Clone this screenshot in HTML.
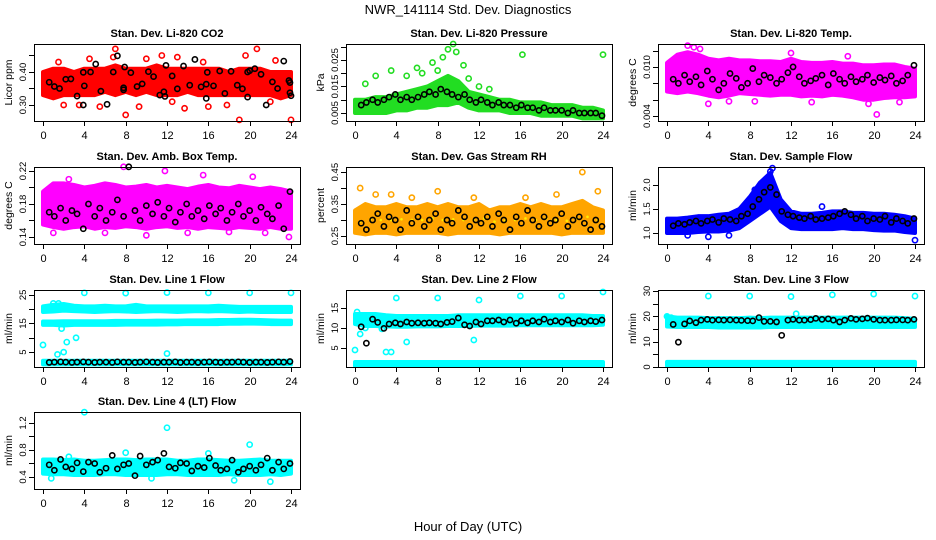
<!DOCTYPE html>
<html><head><meta charset="utf-8"><style>
html,body{margin:0;padding:0;background:#fff;}
svg{display:block;font-family:"Liberation Sans",sans-serif;}
</style></head><body>
<svg id="chart" width="936" height="540" viewBox="0 0 936 540">
<text x="468" y="14" text-anchor="middle" font-size="13">NWR_141114  Std. Dev. Diagnostics</text>
<text x="468" y="531" text-anchor="middle" font-size="13">Hour of Day (UTC)</text>
</svg>
<script>
// ---- data (hour of day vs std dev) ----
const xTicks = [0,4,8,12,16,20,24];
const bandHours = [0,1,2,3,4,5,6,7,8,9,10,11,12,13,14,15,16,17,18,19,20,21,22,23,24];
const blackHours = [0.6,1.1,1.7,2.2,2.8,3.3,3.9,4.4,5.0,5.5,6.1,6.7,7.2,7.8,8.3,8.9,9.4,10.0,10.6,11.1,11.7,12.2,12.8,13.3,13.9,14.4,15.0,15.6,16.1,16.7,17.2,17.8,18.3,18.9,19.4,20.0,20.6,21.1,21.7,22.2,22.8,23.3,23.9];

const co2Lo = [0.33,0.32,0.33,0.33,0.33,0.33,0.34,0.33,0.34,0.33,0.34,0.33,0.33,0.33,0.34,0.33,0.33,0.33,0.33,0.33,0.33,0.33,0.33,0.32,0.33];
const co2Hi = [0.40,0.41,0.41,0.40,0.41,0.41,0.41,0.42,0.41,0.41,0.41,0.42,0.41,0.41,0.41,0.41,0.41,0.41,0.40,0.41,0.41,0.41,0.40,0.40,0.40];
const co2OutX = [7,8,9.3,11.5,13.7,19,20.7,24,2,3.5,5.5,6.8,16,19.6,1.5,10,13,22,22.5,4.5,15.5,17.8,12.5];
const co2OutY = [0.47,0.27,0.295,0.45,0.29,0.255,0.47,0.255,0.30,0.30,0.295,0.445,0.295,0.45,0.43,0.44,0.445,0.31,0.435,0.44,0.43,0.30,0.31];
const co2BlackX = [0.6,1.1,1.6,2.2,2.7,3.3,3.9,3.9,4,4.6,5.1,5.6,6.2,6.8,7.2,7.8,7.8,7.9,8.5,9.1,9.6,10.2,10.7,11.3,11.7,11.8,11.9,12.5,13,13.6,14.2,14.7,15.3,15.8,15.8,15.9,16.5,17.1,17.6,18.2,18.8,19.3,19.8,19.8,20,20.5,21.1,21.6,22.2,22.7,23.3,23.8,23.9,23.9,24];
const co2BlackY = [0.369,0.356,0.350,0.378,0.379,0.327,0.300,0.399,0.358,0.400,0.424,0.342,0.302,0.400,0.449,0.352,0.346,0.415,0.398,0.356,0.364,0.401,0.386,0.330,0.340,0.326,0.420,0.388,0.349,0.418,0.360,0.438,0.355,0.320,0.363,0.399,0.358,0.403,0.335,0.402,0.360,0.349,0.324,0.400,0.404,0.410,0.393,0.300,0.370,0.350,0.433,0.374,0.368,0.337,0.328];

const pLo = [0.005,0.005,0.005,0.005,0.006,0.006,0.007,0.007,0.008,0.008,0.009,0.007,0.006,0.006,0.006,0.005,0.005,0.005,0.004,0.004,0.004,0.004,0.003,0.003,0.003];
const pHi = [0.010,0.010,0.011,0.011,0.012,0.013,0.014,0.015,0.017,0.019,0.017,0.013,0.012,0.011,0.010,0.010,0.009,0.009,0.009,0.008,0.008,0.008,0.007,0.007,0.006];
const pOutX = [2,3.5,6,7.5,8.5,9.5,9.8,10.5,16.2,24,1,5,8,9,11,12,13,6.5];
const pOutY = [0.019,0.021,0.022,0.024,0.026,0.031,0.028,0.023,0.027,0.027,0.016,0.019,0.021,0.029,0.018,0.015,0.014,0.020];
const pBlack = [0.008,0.009,0.010,0.009,0.010,0.011,0.012,0.010,0.011,0.010,0.011,0.012,0.013,0.012,0.014,0.013,0.012,0.011,0.012,0.010,0.009,0.010,0.009,0.008,0.009,0.008,0.008,0.007,0.008,0.007,0.007,0.006,0.007,0.006,0.006,0.006,0.005,0.006,0.005,0.005,0.005,0.005,0.004];

const tLo = [0.0070,0.0068,0.0070,0.0068,0.0065,0.0063,0.0065,0.0068,0.0067,0.0066,0.0065,0.0066,0.0066,0.0064,0.0065,0.0064,0.0066,0.0065,0.0063,0.0060,0.0060,0.0062,0.0063,0.0063,0.0064];
const tHi = [0.0105,0.0115,0.0118,0.0115,0.0110,0.0108,0.0110,0.0108,0.0108,0.0107,0.0107,0.0106,0.0110,0.0106,0.0105,0.0105,0.0106,0.0104,0.0104,0.0102,0.0102,0.0103,0.0103,0.0100,0.0098];
const tOutX = [2,2.6,3.2,20.3,19.5,4,6,8.5,14,17.5,12,22.5];
const tOutY = [0.0126,0.0124,0.0122,0.0042,0.0055,0.0055,0.0058,0.0058,0.0057,0.0113,0.0117,0.0057];
const tBlack = [0.0085,0.0080,0.0090,0.0082,0.0088,0.0078,0.0095,0.0085,0.0072,0.0080,0.0092,0.0086,0.0075,0.0080,0.0098,0.0082,0.0090,0.0087,0.0080,0.0085,0.0093,0.0100,0.0088,0.0080,0.0083,0.0086,0.0090,0.0078,0.0092,0.0085,0.0080,0.0088,0.0082,0.0085,0.0090,0.0081,0.0087,0.0084,0.0089,0.0080,0.0083,0.0090,0.0102];

const aLo = [0.155,0.152,0.150,0.152,0.153,0.150,0.152,0.151,0.153,0.152,0.150,0.152,0.153,0.151,0.152,0.150,0.152,0.151,0.150,0.152,0.151,0.150,0.152,0.150,0.150];
const aHi = [0.195,0.205,0.205,0.203,0.200,0.202,0.205,0.203,0.200,0.201,0.203,0.200,0.202,0.200,0.198,0.201,0.203,0.200,0.199,0.202,0.200,0.198,0.200,0.198,0.195];
const aOutX = [7.8,11.8,15.5,20.3,2.5,1,6,10,14,23.8,21.5,18];
const aOutY = [0.225,0.220,0.215,0.213,0.210,0.145,0.145,0.142,0.145,0.140,0.145,0.146];
const aBlack = [0.170,0.165,0.175,0.160,0.172,0.168,0.150,0.180,0.165,0.175,0.160,0.170,0.185,0.165,0.225,0.172,0.160,0.178,0.168,0.182,0.165,0.175,0.158,0.170,0.180,0.165,0.172,0.162,0.178,0.168,0.175,0.160,0.170,0.180,0.165,0.172,0.160,0.176,0.168,0.162,0.178,0.150,0.195];

const rLo = [0.26,0.255,0.26,0.26,0.255,0.26,0.26,0.26,0.26,0.255,0.26,0.26,0.26,0.26,0.255,0.26,0.26,0.26,0.26,0.26,0.255,0.26,0.26,0.26,0.26];
const rHi = [0.33,0.35,0.34,0.34,0.35,0.34,0.34,0.35,0.34,0.35,0.34,0.34,0.35,0.33,0.34,0.34,0.35,0.34,0.35,0.34,0.34,0.35,0.36,0.34,0.33];
const rOutX = [0.5,2,3.5,5.5,8,11.5,16.5,19.5,22,23.5];
const rOutY = [0.40,0.38,0.38,0.37,0.39,0.37,0.37,0.38,0.45,0.39];
const rBlack = [0.29,0.27,0.30,0.32,0.28,0.31,0.30,0.27,0.33,0.29,0.31,0.28,0.30,0.32,0.27,0.30,0.29,0.33,0.31,0.28,0.30,0.29,0.31,0.28,0.32,0.30,0.27,0.31,0.29,0.33,0.30,0.28,0.31,0.29,0.30,0.32,0.28,0.30,0.31,0.29,0.27,0.30,0.28];

const fLo = [1.00,1.00,1.00,1.02,1.03,1.03,1.05,1.10,1.25,1.40,1.55,1.25,1.10,1.08,1.08,1.08,1.08,1.10,1.08,1.08,1.06,1.05,1.05,1.02,1.00];
const fHi = [1.30,1.30,1.32,1.35,1.35,1.38,1.40,1.50,1.75,2.05,2.25,1.70,1.45,1.40,1.40,1.42,1.45,1.45,1.42,1.42,1.40,1.40,1.38,1.35,1.30];
const fOutX = [10.2,10,4,6,24,15,8.5,9.5,2];
const fOutY = [2.35,2.28,0.92,0.95,0.85,1.55,1.9,2.1,0.95];
const fBlack = [1.15,1.20,1.18,1.22,1.25,1.20,1.25,1.28,1.22,1.30,1.28,1.25,1.35,1.40,1.55,1.70,1.85,1.95,1.80,1.45,1.38,1.35,1.32,1.30,1.35,1.28,1.30,1.32,1.35,1.40,1.45,1.38,1.30,1.35,1.25,1.30,1.28,1.35,1.22,1.30,1.25,1.20,1.30];

const l1HiLo = [19.0,19.2,19.5,19.3,19.2,19.0,19.2,19.3,19.2,19.0,19.2,19.3,19.2,19.0,19.2,19.3,19.2,19.3,19.2,19.0,19.2,19.0,19.0,19.0,19.0];
const l1HiHi = [21.0,21.5,21.8,21.2,21.0,21.0,21.2,21.0,21.0,21.5,21.0,21.0,21.0,21.0,21.0,21.0,21.0,21.2,21.0,20.8,20.8,20.8,20.8,20.8,20.8];
const l1MidLo = [14.5,14.5,14.3,14.5,14.5,14.5,14.5,14.5,14.6,14.6,14.6,14.6,14.7,14.7,14.8,14.8,14.8,14.8,14.9,14.9,15.0,14.9,14.8,14.8,14.8];
const l1MidHi = [15.7,15.7,15.8,15.8,15.8,15.8,15.8,15.9,15.9,15.9,15.9,16.0,16.0,16.0,16.1,16.1,16.1,16.2,16.2,16.3,16.3,16.2,16.1,16.0,16.0];
const l1BotLo = [0.7,0.7,0.7,0.7,0.7,0.7,0.7,0.7,0.7,0.7,0.7,0.7,0.7,0.7,0.7,0.7,0.7,0.7,0.7,0.7,0.7,0.7,0.7,0.7,0.7];
const l1BotHi = [2.0,2.0,2.0,2.0,2.0,2.0,2.0,2.0,2.0,2.0,2.0,2.0,2.0,2.0,2.0,2.0,2.0,2.0,2.0,2.0,2.0,2.0,2.0,2.0,2.0];
const l1OutX = [0,1.4,2.0,2.3,3.2,4,8,12,12,16,20,24,1.8,1.5,1.0];
const l1OutY = [7.5,4.2,5.0,8.5,10,25.7,25.6,25.8,4.5,25.7,25.7,25.7,13.2,22,22];
const l1Black = [1.4,1.5,1.6,1.5,1.4,1.5,1.6,1.5,1.4,1.5,1.5,1.4,1.6,1.5,1.5,1.4,1.5,1.6,1.5,1.4,1.5,1.5,1.6,1.4,1.5,1.5,1.4,1.5,1.6,1.5,1.4,1.5,1.5,1.6,1.5,1.4,1.5,1.5,1.4,1.5,1.6,1.5,1.7];

const l2Lo = [11.0,10.5,10.5,10.4,10.3,10.3,10.4,10.4,10.4,10.5,10.5,10.5,10.6,10.6,10.6,10.6,10.7,10.7,10.7,10.7,10.7,10.7,10.7,10.7,10.8];
const l2Hi = [13.5,13.5,13.5,13.2,13.0,13.0,13.0,13.0,13.0,13.0,13.2,13.2,13.2,13.2,13.2,13.2,13.2,13.2,13.2,13.2,13.2,13.2,13.2,13.0,13.0];
const l2BotLo = [0.5,0.5,0.5,0.5,0.5,0.5,0.5,0.5,0.5,0.5,0.5,0.5,0.5,0.5,0.5,0.5,0.5,0.5,0.5,0.5,0.5,0.5,0.5,0.5,0.5];
const l2BotHi = [1.5,1.5,1.5,1.5,1.5,1.5,1.5,1.5,1.5,1.5,1.5,1.5,1.5,1.5,1.5,1.5,1.5,1.5,1.5,1.5,1.5,1.5,1.5,1.5,1.5];
const l2OutX = [0,0.5,1,4,8,12,16,20,24,11.5,3,3.5,5,2.6,0.2];
const l2OutY = [4.5,8.5,10,17.5,17.5,17,18,18,19,7,4,4,6.5,9.8,14];
const l2Black = [10.3,6.2,12.2,11.4,9.9,11.0,11.3,11.0,11.5,11.2,11.3,11.2,11.3,11.2,11.0,11.4,11.6,12.5,10.8,10.5,11.5,11.0,11.8,11.8,12.0,11.5,12.0,11.2,11.8,11.3,11.8,11.5,12.2,11.5,11.8,11.5,12.0,11.2,11.8,11.5,11.8,11.6,12.0];

const l3Lo = [16.0,15.8,15.8,15.8,15.8,15.6,15.6,15.6,15.6,15.6,15.8,15.8,15.8,15.8,15.8,15.8,15.8,15.8,15.8,15.8,15.8,15.8,15.8,15.8,15.8];
const l3Hi = [20.0,19.5,19.5,19.5,19.3,19.3,19.3,19.3,19.5,19.3,19.5,19.5,19.5,19.5,19.5,19.5,19.5,19.5,19.5,19.5,19.5,19.5,19.5,19.3,19.0];
const l3BotLo = [0.5,0.5,0.5,0.5,0.5,0.5,0.5,0.5,0.5,0.5,0.5,0.5,0.5,0.5,0.5,0.5,0.5,0.5,0.5,0.5,0.5,0.5,0.5,0.5,0.5];
const l3BotHi = [2.0,2.0,2.0,2.0,2.0,2.0,2.0,2.0,2.0,2.0,2.0,2.0,2.0,2.0,2.0,2.0,2.0,2.0,2.0,2.0,2.0,2.0,2.0,2.0,2.0];
const l3OutX = [4,8,12,16,20,24,12.5,0,0.4];
const l3OutY = [28,28,27.8,28.5,28.8,28,21,20,19.5];
const l3Black = [16.8,9.8,17.0,18.2,17.5,18.5,18.8,18.5,18.6,18.5,18.6,18.5,18.4,18.3,18.2,19.5,18.0,18.0,17.8,12.5,18.5,18.8,18.5,18.5,18.7,19.2,18.8,19.0,18.5,17.8,18.5,19.2,18.8,19.0,19.3,18.8,18.5,18.5,18.5,18.6,18.6,18.5,18.8];

const l4Lo = [0.45,0.44,0.44,0.43,0.43,0.43,0.44,0.44,0.43,0.43,0.43,0.43,0.44,0.44,0.43,0.43,0.43,0.43,0.44,0.43,0.43,0.43,0.44,0.43,0.45];
const l4Hi = [0.66,0.66,0.65,0.66,0.64,0.64,0.65,0.66,0.66,0.65,0.66,0.66,0.66,0.64,0.64,0.66,0.66,0.65,0.64,0.64,0.65,0.66,0.64,0.64,0.64];
const l4OutX = [4,12,20,18.5,22,0.8,8,16,10.5,2.5];
const l4OutY = [1.36,1.13,0.88,0.35,0.33,0.38,0.76,0.75,0.38,0.70];
const l4Black = [0.58,0.50,0.66,0.55,0.52,0.61,0.48,0.62,0.60,0.47,0.53,0.72,0.52,0.58,0.60,0.42,0.71,0.58,0.62,0.65,0.75,0.55,0.53,0.61,0.60,0.49,0.56,0.54,0.68,0.57,0.50,0.52,0.65,0.47,0.52,0.56,0.50,0.58,0.68,0.50,0.62,0.52,0.60];

// ---- layout ----
const NS = "http://www.w3.org/2000/svg";
const svg = document.getElementById('chart');
const colX = [34, 346, 658], rowY = [44, 167, 290, 412], BW = 266, BH = 77;

const panels = [
 {title:"Stan. Dev. Li-820 CO2", ylab:"Licor ppm", c:0,r:0, ymin:0.2515,ymax:0.4848, ticks:[0.30,0.35,0.40,0.45], labs:[0.30,0.40], fmt:2, color:"#ff0000", bands:[[co2Lo,co2Hi]], outX:co2OutX,outY:co2OutY, bx:co2BlackX, by:co2BlackY},
 {title:"Stan. Dev. Li-820 Pressure", ylab:"kPa", c:1,r:0, ymin:0.002,ymax:0.031, ticks:[0.005,0.010,0.015,0.020,0.025,0.030], labs:[0.005,0.015,0.025], fmt:3, color:"#22dd22", bands:[[pLo,pHi]], outX:pOutX,outY:pOutY, bx:blackHours, by:pBlack},
 {title:"Stan. Dev. Li-820 Temp.", ylab:"degrees C", c:2,r:0, ymin:0.0034,ymax:0.0128, ticks:[0.004,0.006,0.008,0.010,0.012], labs:[0.004,0.010], fmt:3, color:"#ff00ff", bands:[[tLo,tHi]], outX:tOutX,outY:tOutY, bx:blackHours, by:tBlack},
 {title:"Stan. Dev. Amb. Box Temp.", ylab:"degrees C", c:0,r:1, ymin:0.1315,ymax:0.2248, ticks:[0.14,0.16,0.18,0.20,0.22], labs:[0.14,0.18,0.22], fmt:2, color:"#ff00ff", bands:[[aLo,aHi]], outX:aOutX,outY:aOutY, bx:blackHours, by:aBlack},
 {title:"Stan. Dev. Gas Stream RH", ylab:"percent", c:1,r:1, ymin:0.225,ymax:0.466, ticks:[0.25,0.30,0.35,0.40,0.45], labs:[0.25,0.35,0.45], fmt:2, color:"#ffa500", speck:"#ffee00", bands:[[rLo,rHi]], outX:rOutX,outY:rOutY, bx:blackHours, by:rBlack},
 {title:"Stan. Dev. Sample Flow", ylab:"ml/min", c:2,r:1, ymin:0.77,ymax:2.375, ticks:[1.0,1.5,2.0], labs:[1.0,1.5,2.0], fmt:1, color:"#0000ff", bands:[[fLo,fHi]], outX:fOutX,outY:fOutY, bx:blackHours, by:fBlack},
 {title:"Stan. Dev. Line 1 Flow", ylab:"ml/min", c:0,r:2, ymin:-0.2,ymax:26.7, ticks:[5,10,15,20,25], labs:[5,15,25], fmt:0, color:"#00ffff", bands:[[l1HiLo,l1HiHi],[l1MidLo,l1MidHi],[l1BotLo,l1BotHi]], outX:l1OutX,outY:l1OutY, bx:blackHours, by:l1Black},
 {title:"Stan. Dev. Line 2 Flow", ylab:"ml/min", c:1,r:2, ymin:0.25,ymax:19.5, ticks:[5,10,15], labs:[5,10,15], fmt:0, color:"#00ffff", bands:[[l2Lo,l2Hi],[l2BotLo,l2BotHi]], outX:l2OutX,outY:l2OutY, bx:blackHours, by:l2Black},
 {title:"Stan. Dev. Line 3 Flow", ylab:"ml/min", c:2,r:2, ymin:0,ymax:30.4, ticks:[0,5,10,15,20,25,30], labs:[0,10,20,30], fmt:0, color:"#00ffff", bands:[[l3Lo,l3Hi],[l3BotLo,l3BotHi]], outX:l3OutX,outY:l3OutY, bx:blackHours, by:l3Black},
 {title:"Stan. Dev. Line 4 (LT) Flow", ylab:"ml/min", c:0,r:3, ymin:0.222,ymax:1.363, ticks:[0.4,0.6,0.8,1.0,1.2], labs:[0.4,0.8,1.2], fmt:1, color:"#00ffff", bands:[[l4Lo,l4Hi]], outX:l4OutX,outY:l4OutY, bx:blackHours, by:l4Black}
];

function mk(tag, attrs, parent){ const e=document.createElementNS(NS,tag); for(const k in attrs) e.setAttribute(k,attrs[k]); (parent||svg).appendChild(e); return e; }

panels.forEach((p,pi)=>{
  const L=colX[p.c], T=rowY[p.r];
  const xs = h => L + 9 + h*(248/24);
  const ys = v => T + BH - (v-p.ymin)/(p.ymax-p.ymin)*BH;
  const g = mk('g',{});
  
  
  p.bands.forEach(([lo,hi],bi)=>{
    let pts = bandHours.map((h,i)=>xs(h)+','+ys(hi[i]));
    pts = pts.concat(bandHours.map((h,i)=>xs(h)+','+ys(lo[i])).reverse());
    const poly = mk('polygon',{points:pts.join(' '), fill:p.color, stroke:p.color, 'stroke-width':4, 'stroke-linejoin':'round'}, g);
    
    
    if(p.speck){
      for(let i=0;i<bandHours.length-1;i++){
        const m=(lo[i]+hi[i])/2;
        const s = mk('circle',{cx:xs(bandHours[i]+0.5), cy:ys(m), r:1.3, fill:p.speck}, g);
        
        
      }
    }
  });
  p.outX.forEach((h,i)=>{
    const c = mk('circle',{cx:xs(h), cy:ys(p.outY[i]), r:2.6, fill:'none', stroke:p.color, 'stroke-width':1.6}, g);
    
    
  });
  p.bx.forEach((h,i)=>{
    const c = mk('circle',{cx:xs(h), cy:ys(p.by[i]), r:2.6, fill:'none', stroke:'#000', 'stroke-width':1.6}, g);
    
    
  });
  const box = mk('rect',{x:L+0.5,y:T+0.5,width:BW,height:BH,fill:'none',stroke:'#000','stroke-width':1}, g);
  
  
  xTicks.forEach(t=>{
    const x=Math.round(xs(t))+0.5;
    const tk = mk('line',{x1:x,x2:x,y1:T+BH,y2:T+BH+5,stroke:'#000'}, g);
    
    
    const tl = mk('text',{x:x,y:T+BH+18,'text-anchor':'middle','font-size':11}, g);
    tl.textContent=t;
    
    
  });
  p.ticks.forEach(t=>{
    const y=Math.round(ys(t))+0.5;
    const tk = mk('line',{x1:L-5,x2:L,y1:y,y2:y,stroke:'#000'}, g);
    
    
  });
  p.labs.forEach(t=>{
    const y=ys(t);
    const tl = mk('text',{x:0,y:0,'text-anchor':'middle','font-size':9.5,transform:`translate(${L-8},${y}) rotate(-90)`}, g);
    tl.textContent=t.toFixed(p.fmt);
    
    
  });
  const yt = mk('text',{x:0,y:0,'text-anchor':'middle','font-size':10.5,transform:`translate(${L-22},${T+BH/2}) rotate(-90)`}, g);
  yt.textContent=p.ylab;
  
  
  const tt = mk('text',{x:L+BW/2,y:T-7,'text-anchor':'middle','font-size':11,'font-weight':'bold'}, g);
  tt.textContent=p.title;
  
  
});
</script>
</body></html>
